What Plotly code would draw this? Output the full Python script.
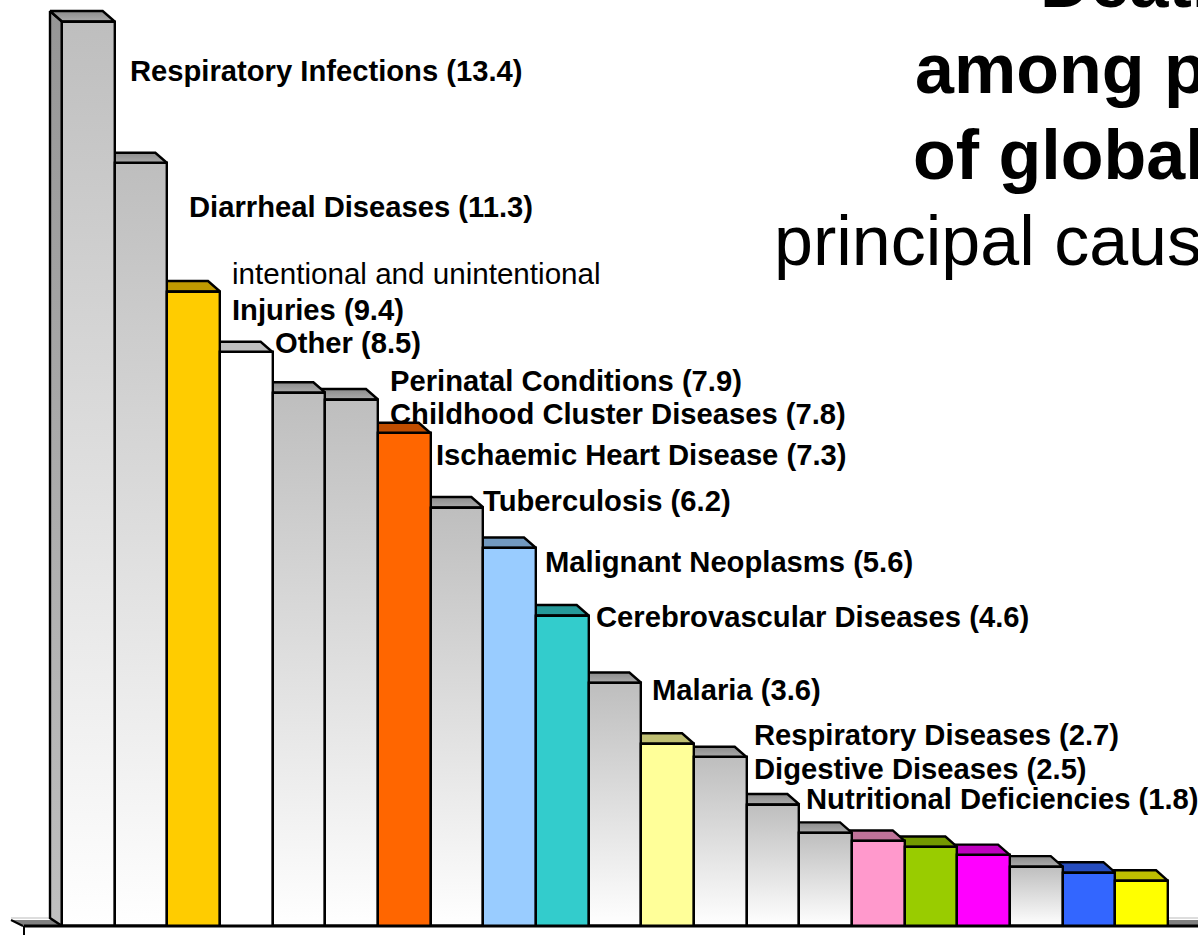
import plotly.graph_objects as go

categories = ["Respiratory Infections", "Diarrheal Diseases", "Injuries", "Other",
              "Perinatal Conditions", "Childhood Cluster Diseases", "Ischaemic Heart Disease",
              "Tuberculosis", "Malignant Neoplasms", "Cerebrovascular Diseases", "Malaria",
              "Respiratory Diseases", "Digestive Diseases", "Nutritional Deficiencies",
              "", "", "", "", "", "", ""]
values = [13.4, 11.3, 9.4, 8.5, 7.9, 7.8, 7.3, 6.2, 5.6, 4.6, 3.6, 2.7, 2.5, 1.8,
          1.38, 1.26, 1.17, 1.05, 0.88, 0.79, 0.67]
# None = grey-to-white gradient
face_colors = [None, None, "#FFCC00", "#FFFFFF", None, None, "#FF6600", None, "#99CCFF",
               "#33CCCC", None, "#FFFF99", None, None, None, "#FF99CC", "#99CC00",
               "#FF00FF", None, "#3366FF", "#FFFF00"]
top_colors = [None, None, "#BF9900", "#BFBFBF", None, None, "#BF4D00", None, "#7299BF",
              "#269999", None, "#BFBF73", None, None, None, "#BF7399", "#739900",
              "#BF00BF", None, "#264DBF", "#BFBF00"]
labels = ["Respiratory Infections (13.4)", "Diarrheal Diseases (11.3)",
          "intentional and unintentional", "Injuries (9.4)", "Other (8.5)",
          "Perinatal Conditions (7.9)", "Childhood Cluster Diseases (7.8)",
          "Ischaemic Heart Disease (7.3)", "Tuberculosis (6.2)", "Malignant Neoplasms (5.6)",
          "Cerebrovascular Diseases (4.6)", "Malaria (3.6)", "Respiratory Diseases (2.7)",
          "Digestive Diseases (2.5)", "Nutritional Deficiencies (1.8)"]
label_left = [130, 189, 232, 232, 275, 390, 390, 436, 483, 545, 596, 652, 754, 754, 806]
label_mid = [71, 207, 273, 310, 343, 381, 414, 455, 501, 562, 617, 690, 735, 769, 799]
title_lines = ["Deaths", "among p", "of global", "principal causes"]
title_left = [1038, 913, 911, 772]
title_base = [6, 92, 178, 264]

W, H = 1198, 935
X0, PITCH, Y0, UNIT = 62.0, 52.67, 926.0, 67.5
DX, DY = 12.0 / PITCH, 10.5 / UNIT
EDGE = 2.4
x_range = [-0.5 - X0 / PITCH, -0.5 + (W - X0) / PITCH]
y_range = [(Y0 - H) / UNIT, Y0 / UNIT]


def fx(px):
    return -0.5 + (px - X0) / PITCH


def fy(py):
    return (Y0 - py) / UNIT


fig = go.Figure()


def poly(xs, ys, color=None, grad=None, lw=EDGE):
    kw = dict(fillgradient=dict(type="vertical", colorscale=grad)) if grad else dict(fillcolor=color)
    line = dict(color="#000000", width=lw) if lw else dict(color="rgba(0,0,0,0)", width=0)
    fig.add_trace(go.Scatter(x=xs + xs[:1], y=ys + ys[:1], mode="lines", fill="toself",
                             line=line, showlegend=False, hoverinfo="skip", **kw))


# floor
fig.add_trace(go.Scatter(x=[fx(11), fx(W + 20)], y=[fy(918), fy(918)], mode="lines",
                         line=dict(color="#DDDDDD", width=2), showlegend=False, hoverinfo="skip"))
fig.add_trace(go.Scatter(x=[fx(23), fx(11), fx(W + 20), fx(W + 20), fx(23)],
                         y=[fy(926), fy(920), fy(920), fy(926), fy(926)], mode="lines", fill="toself",
                         fillcolor="#808080", line=dict(color="rgba(0,0,0,0)", width=0),
                         showlegend=False, hoverinfo="skip"))
fig.add_trace(go.Scatter(x=[fx(11), fx(23)], y=[fy(920), fy(926)], mode="lines",
                         line=dict(color="#000000", width=2), showlegend=False, hoverinfo="skip"))

# side wall of the first bar
poly([fx(50), fx(62), fx(62), fx(50)], [values[0] + DY, values[0], 0, fy(918)],
     grad=[[0, "#C0C0C0"], [1, "#969696"]])

# top faces, drawn right to left so taller neighbours stay in front
for i in range(len(values) - 1, -1, -1):
    v = values[i]
    xl, xr = i - 0.5, i + 0.5
    xs, ys = [xl, xr, xr - DX, xl - DX], [v, v, v + DY, v + DY]
    if top_colors[i]:
        poly(xs, ys, color=top_colors[i])
    else:
        poly(xs, ys, grad=[[0, "#ABABAB"], [1, "#8C8C8C"]])

# gradient fronts, underneath the outlined bars
for i, v in enumerate(values):
    if face_colors[i] is None:
        xl, xr = i - 0.5, i + 0.5
        poly([xl, xr, xr, xl], [0, 0, v, v], grad=[[0, "#FFFFFF"], [1, "#BEBEBE"]], lw=0)

# baseline and corner tick
fig.add_trace(go.Scatter(x=[fx(24), fx(W + 20)], y=[0, 0], mode="lines",
                         line=dict(color="#000000", width=2.8), showlegend=False, hoverinfo="skip"))
fig.add_trace(go.Scatter(x=[fx(24), fx(24)], y=[0, y_range[0] - 1], mode="lines",
                         line=dict(color="#000000", width=2), showlegend=False, hoverinfo="skip"))

# the bars proper on an overlaid pair of axes
fig.add_trace(go.Bar(x=list(range(len(values))), y=values, width=1, xaxis="x2", yaxis="y2",
                     hovertext=categories, showlegend=False,
                     marker=dict(color=[c if c else "rgba(0,0,0,0)" for c in face_colors],
                                 line=dict(color="#000000", width=EDGE))))

annotations = []
for t, l, m in zip(labels, label_left, label_mid):
    plain = t.startswith("intent")
    annotations.append(dict(x=fx(l), y=fy(m), xref="x2", yref="y2", text=t if plain else f"<b>{t}</b>",
                            showarrow=False, xanchor="left", yanchor="middle", xshift=-2,
                            font=dict(family="Liberation Sans", size=29.6 if plain else 29.2, color="#000000")))
for i, (t, l, b) in enumerate(zip(title_lines, title_left, title_base)):
    annotations.append(dict(x=fx(l), y=fy(b), xref="x2", yref="y2", text=t if i == 3 else f"<b>{t}</b>",
                            showarrow=False, xanchor="left", yanchor="bottom", yshift=-18,
                            font=dict(family="Liberation Sans", size=70, color="#000000")))

axis = dict(visible=False, fixedrange=True, showgrid=False, zeroline=False)
fig.update_layout(
    width=W, height=H, margin=dict(l=0, r=0, t=0, b=0), autosize=False,
    paper_bgcolor="#FFFFFF", plot_bgcolor="#FFFFFF", bargap=0, showlegend=False,
    xaxis=dict(range=x_range, domain=[0, 1], **axis),
    yaxis=dict(range=y_range, domain=[0, 1], **axis),
    xaxis2=dict(range=x_range, overlaying="x", **axis),
    yaxis2=dict(range=y_range, overlaying="y", **axis),
    annotations=annotations,
)
fig.write_html("out.html", config={"displayModeBar": False},
               post_script="document.body.style.margin='0';")
